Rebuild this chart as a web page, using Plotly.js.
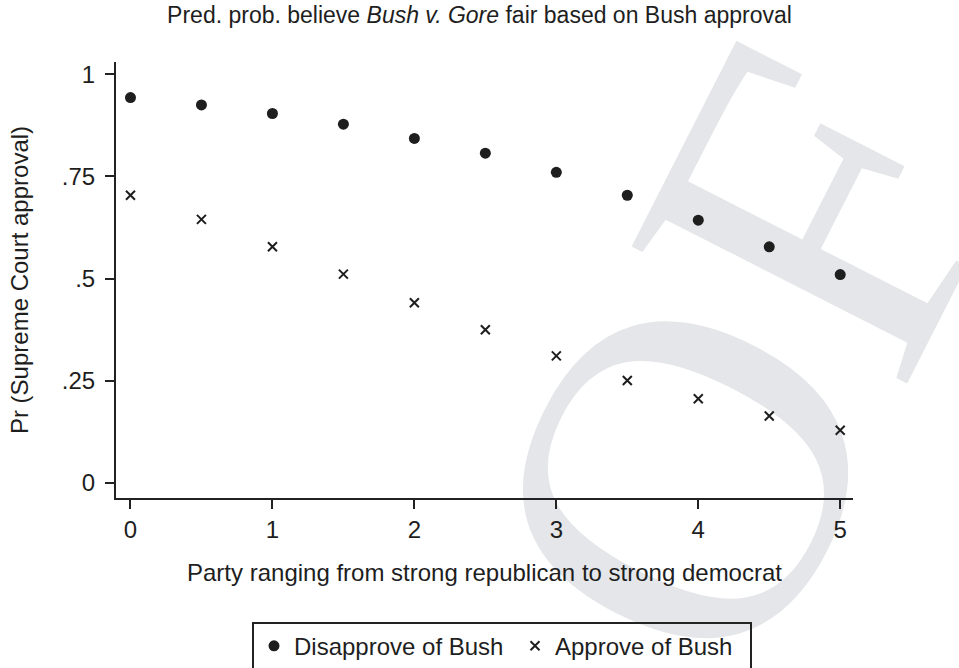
<!DOCTYPE html>
<html>
<head>
<meta charset="utf-8">
<script src="https://cdn.plot.ly/plotly-3.0.1.min.js"></script>
<style>html,body{margin:0;padding:0;background:#fff;}#chart{width:959px;height:668px;}</style>
</head>
<body>
<div id="chart"></div>
<script>
// Party scale (0 = strong republican ... 5 = strong democrat)
const party = [0, 0.5, 1, 1.5, 2, 2.5, 3, 3.5, 4, 4.5, 5];
// Predicted probability, respondents who disapprove of Bush
const disapprove = [0.943, 0.925, 0.904, 0.878, 0.843, 0.807, 0.760, 0.704, 0.643, 0.578, 0.510];
// Predicted probability, respondents who approve of Bush
const approve = [0.704, 0.645, 0.578, 0.511, 0.441, 0.375, 0.311, 0.251, 0.206, 0.164, 0.129];

const xTicks = [0, 1, 2, 3, 4, 5];
const xTickText = ['0', '1', '2', '3', '4', '5'];
const yTicks = [0, 0.25, 0.5, 0.75, 1];
const yTickText = ['0', '.25', '.5', '.75', '1'];

const seriesNames = ['Disapprove of Bush', 'Approve of Bush'];
const titleText = 'Pred. prob. believe <i>Bush v. Gore</i> fair based on Bush approval';
const xTitle = 'Party ranging from strong republican to strong democrat';
const yTitle = 'Pr (Supreme Court approval)';
const watermark = 'OF';

const ink = '#1e1e1e';
const font = 'Liberation Sans, Arial, Helvetica, sans-serif';

const traces = [
  {
    x: party, y: disapprove, type: 'scatter', mode: 'markers', name: seriesNames[0],
    marker: {symbol: 'circle', size: 11, color: ink},
    legendwidth: 216
  },
  {
    x: party, y: approve, type: 'scatter', mode: 'markers', name: seriesNames[1],
    marker: {symbol: 'x-thin', size: 9, color: ink, line: {width: 2, color: ink}},
    legendwidth: 190
  }
];

const axisCommon = {
  showline: true, linecolor: '#222', linewidth: 2,
  ticks: 'outside', ticklen: 9, tickwidth: 2, tickcolor: '#222',
  showgrid: false, zeroline: false,
  tickfont: {family: font, size: 24, color: ink},
  fixedrange: true, automargin: false
};

const layout = {
  width: 959, height: 668,
  margin: {l: 116, r: 106, t: 62, b: 170, pad: 0},
  paper_bgcolor: '#fff', plot_bgcolor: 'rgba(0,0,0,0)',
  font: {family: font, size: 24, color: ink},
  title: {
    text: titleText, font: {family: font, size: 23, color: ink},
    xref: 'container', x: 0.5, xanchor: 'center',
    yref: 'container', y: 1 - 15 / 668, yanchor: 'middle'
  },
  xaxis: Object.assign({}, axisCommon, {
    range: [-0.102, 5.09], tickvals: xTicks, ticktext: xTickText,
    title: {text: xTitle, font: {family: font, size: 24, color: ink}, standoff: 22}
  }),
  yaxis: Object.assign({}, axisCommon, {
    range: [-0.0366, 1.03], tickvals: yTicks, ticktext: yTickText,
    ticklabelstandoff: 5,
    title: {text: yTitle, font: {family: font, size: 24, color: ink}, standoff: 26}
  }),
  showlegend: true,
  legend: {
    orientation: 'h',
    xref: 'container', x: 252 / 959, xanchor: 'left',
    yref: 'container', y: 1 - 621.7 / 668, yanchor: 'top',
    bordercolor: '#222', borderwidth: 2, bgcolor: 'rgba(0,0,0,0)',
    font: {family: font, size: 24, color: ink}
  },
  shapes: [{
    type: 'line', xref: 'paper', yref: 'paper', layer: 'below',
    x0: 0.785, x1: 0.787, y0: 0.367, y1: 0.367,
    line: {width: 0, color: 'rgba(0,0,0,0)'},
    label: {
      text: watermark, textangle: -63, textposition: 'middle',
      xanchor: 'center', yanchor: 'middle', padding: 0,
      font: {family: 'Liberation Serif, Times New Roman, serif', size: 470, color: '#e5e6e9'}
    }
  }]
};

Plotly.newPlot('chart', traces, layout, {displayModeBar: false, staticPlot: true});
</script>
</body>
</html>
